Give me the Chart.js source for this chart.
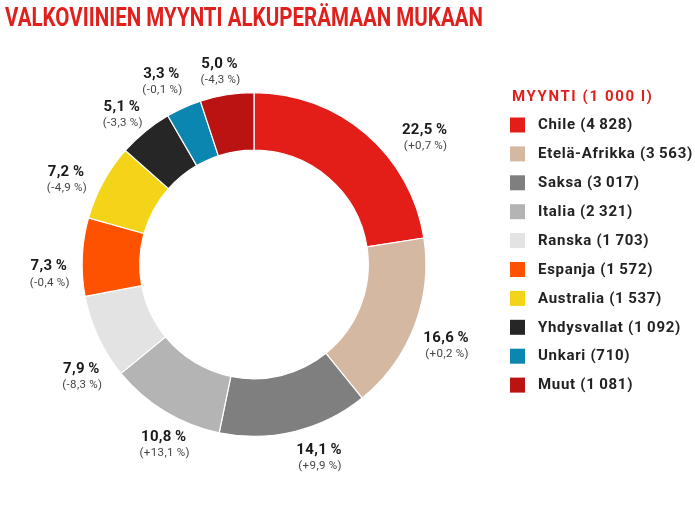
<!DOCTYPE html>
<html>
<head>
<meta charset="utf-8">
<script src="https://cdn.jsdelivr.net/npm/chart.js@4/dist/chart.umd.min.js"></script>
<style>
  html, body { margin: 0; padding: 0; background: #fff; }
  #wrap { width: 695px; height: 521px; }
</style>
</head>
<body>
<div id="wrap"><canvas id="wines" width="695" height="521"></canvas></div>
<script>
// data
const countries = ["Chile", "Etelä-Afrikka", "Saksa", "Italia", "Ranska", "Espanja", "Australia", "Yhdysvallat", "Unkari", "Muut"]
const sales = [4828, 3563, 3017, 2321, 1703, 1572, 1537, 1092, 710, 1081]
const changes = [0.7, 0.2, 9.9, 13.1, -8.3, -0.4, -4.9, -3.3, -0.1, -4.3]
const colors = ["#e31e18", "#d5b8a2", "#7f7f7f", "#b4b4b4", "#e3e3e3", "#ff5200", "#f3d418", "#262626", "#0b86b0", "#bb1212"]

const titleText = "VALKOVIINIEN MYYNTI ALKUPERÄMAAN MUKAAN"
const legendTitle = "MYYNTI (1 000 l)"
const RED = "#e0201c"
const FONT = "Roboto, 'DejaVu Sans', sans-serif"

// label nudges around each slice (px), just layout
const labelShift = [[41, 25], [6, 10], [18, 0], [13, 10], [8, 28], [-6, 19], [-13, 11], [-6, 5], [-11, 0], [-3, 5]]

function fmtThousands(n) {
	return String(n).replace(/\B(?=(\d{3})+(?!\d))/g, "\u2009")
}
function fmtPct(v) {
	return v.toFixed(1).replace(".", ",") + "\u2009%"
}

const total = sales.reduce((a, b) => a + b, 0)

//title on top, squeezed a bit like the condensed original
const titlePlugin = {
	id: "titlePlugin",
	afterDraw(chart) {
		const ctx = chart.ctx
		ctx.save()
		ctx.font = "bold 25px " + FONT
		ctx.fillStyle = RED
		ctx.textBaseline = "alphabetic"
		let w = ctx.measureText(titleText).width
		let sx = Math.min(1, 478 / w)
		ctx.translate(5, 26)
		ctx.scale(sx, 1)
		ctx.fillText(titleText, 0, 0)
		ctx.restore()
	}
}

//legend on the right
const sideLegend = {
	id: "sideLegend",
	afterDraw(chart) {
		const ctx = chart.ctx
		const ds = chart.data.datasets[0]
		ctx.save()
		ctx.textBaseline = "middle"
		ctx.font = "bold 15px " + FONT
		ctx.fillStyle = RED
		ctx.letterSpacing = "1.6px"
		ctx.fillText(legendTitle, 512, 97)
		ctx.letterSpacing = "0.7px"
		ctx.font = "bold 15px " + FONT
		chart.data.labels.forEach((lab, i) => {
			let y = 125 + i * 28.9
			ctx.fillStyle = ds.backgroundColor[i]
			ctx.fillRect(510, y - 7.5, 15, 15)
			ctx.fillStyle = "#222"
			ctx.fillText(lab + " (" + fmtThousands(ds.data[i]) + ")", 538, y + 0.5)
		})
		ctx.restore()
	}
}

//percent + change labels outside the ring
const sliceLabels = {
	id: "sliceLabels",
	afterDatasetsDraw(chart) {
		const ctx = chart.ctx
		const meta = chart.getDatasetMeta(0)
		ctx.save()
		ctx.textAlign = "center"
		ctx.textBaseline = "middle"
		meta.data.forEach((arc, i) => {
			const p = arc.getProps(["x", "y", "startAngle", "endAngle", "outerRadius"], true)
			const mid = (p.startAngle + p.endAngle) / 2
			const r = p.outerRadius + 27.5
			const x = p.x + Math.cos(mid) * r + labelShift[i][0]
			const y = p.y + Math.sin(mid) * r + labelShift[i][1]
			const v = chart.data.datasets[0].data[i]
			ctx.font = "bold 15px " + FONT
			ctx.fillStyle = "#1a1a1a"
			ctx.letterSpacing = "0.3px"
			ctx.fillText(fmtPct(v / total * 100), x, y - 8)
			ctx.font = "11.5px " + FONT
			ctx.fillStyle = "#444"
			ctx.letterSpacing = "0.4px"
			const c = changes[i]
			ctx.fillText("(" + (c >= 0 ? "+" : "") + fmtPct(c) + ")", x + 1, y + 8)
		})
		ctx.restore()
	}
}

const ctx = document.getElementById("wines").getContext("2d")
const chart = new Chart(ctx, {
	type: "doughnut",
	data: {
		labels: countries,
		datasets: [{
			data: sales,
			backgroundColor: colors,
			borderColor: "#ffffff",
			borderWidth: 1.2,
			hoverOffset: 0
		}]
	},
	options: {
		responsive: false,
		animation: false,
		cutout: "66.5%",
		layout: {
			padding: { left: 81, top: 92, right: 268, bottom: 84 }
		},
		plugins: {
			legend: { display: false },
			title: { display: false },
			tooltip: { enabled: false }
		}
	},
	plugins: [titlePlugin, sideLegend, sliceLabels]
})
</script>
</body>
</html>
